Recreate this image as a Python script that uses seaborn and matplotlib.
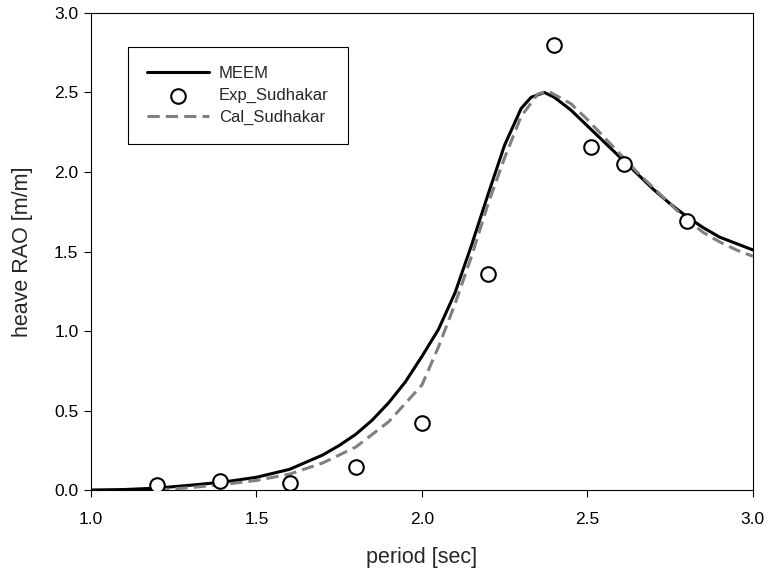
import pandas as pd
import matplotlib
matplotlib.use("Agg")
import matplotlib.pyplot as plt
import seaborn as sns

# MEEM heave RAO
meem_period = [1.0, 1.1, 1.2, 1.3, 1.4, 1.5, 1.6, 1.7, 1.75, 1.8, 1.85, 1.9, 1.95, 2.0,
               2.05, 2.1, 2.15, 2.2, 2.25, 2.3, 2.33, 2.37, 2.4, 2.45, 2.5, 2.55, 2.6,
               2.65, 2.7, 2.75, 2.8, 2.85, 2.9, 2.95, 3.0]
meem_rao = [0.0, 0.003, 0.012, 0.03, 0.05, 0.08, 0.13, 0.22, 0.28, 0.35, 0.44, 0.55, 0.68, 0.84,
            1.01, 1.24, 1.54, 1.86, 2.17, 2.40, 2.47, 2.50, 2.47, 2.39, 2.29, 2.19, 2.09,
            1.99, 1.89, 1.80, 1.72, 1.65, 1.59, 1.55, 1.51]

# Sudhakar experiment
exp_period = [1.2, 1.39, 1.6, 1.8, 2.0, 2.2, 2.4, 2.51, 2.61, 2.8]
exp_rao = [0.03, 0.055, 0.045, 0.145, 0.42, 1.36, 2.80, 2.16, 2.05, 1.69]

# Sudhakar calculation
cal_period = [1.2, 1.3, 1.4, 1.5, 1.6, 1.7, 1.8, 1.9, 2.0, 2.05, 2.1, 2.15, 2.2,
              2.25, 2.3, 2.35, 2.38, 2.45, 2.5, 2.55, 2.6, 2.65, 2.7, 2.75, 2.8,
              2.85, 2.9, 2.95, 3.0]
cal_rao = [0.0, 0.015, 0.035, 0.06, 0.10, 0.17, 0.27, 0.43, 0.66, 0.90, 1.17, 1.47, 1.80,
           2.09, 2.35, 2.49, 2.51, 2.43, 2.33, 2.22, 2.11, 2.00, 1.90, 1.80, 1.70,
           1.62, 1.56, 1.51, 1.47]


def main():
    sns.set_style("ticks")
    plt.rcParams['font.family'] = ['Liberation Sans', 'DejaVu Sans']
    plt.rcParams['font.size'] = 12

    meem = pd.DataFrame({'period': meem_period, 'rao': meem_rao})
    exp = pd.DataFrame({'period': exp_period, 'rao': exp_rao})
    cal = pd.DataFrame({'period': cal_period, 'rao': cal_rao})

    fig = plt.figure(figsize=(7.69, 5.75), dpi=100)
    ax = fig.add_axes([0.1183, 0.1478, 0.8607, 0.8296])

    sns.lineplot(data=meem, x='period', y='rao', ax=ax, color='black',
                 linewidth=2.2, sort=False, label='MEEM', zorder=2)
    sns.lineplot(data=cal, x='period', y='rao', ax=ax, color='#808080',
                 linewidth=2.2, sort=False, label='Cal_Sudhakar', zorder=3,
                 dashes=False)
    ax.lines[-1].set_dashes((4, 2))
    sns.scatterplot(data=exp, x='period', y='rao', ax=ax, marker='o',
                    facecolor='white', edgecolor='black', linewidth=1.5,
                    s=110, label='Exp_Sudhakar', zorder=4)

    ax.set_xlim(1.0, 3.0)
    ax.set_ylim(0.0, 3.0)
    ax.set_xticks([1.0, 1.5, 2.0, 2.5, 3.0])
    ax.set_yticks([0.0, 0.5, 1.0, 1.5, 2.0, 2.5, 3.0])
    ax.set_xticklabels(['1.0', '1.5', '2.0', '2.5', '3.0'])
    ax.set_yticklabels(['0.0', '0.5', '1.0', '1.5', '2.0', '2.5', '3.0'])
    ax.tick_params(axis='both', direction='out', length=5, width=0.8,
                   colors='black', labelsize=12.5)
    ax.tick_params(axis='x', pad=10.5)
    ax.tick_params(axis='y', pad=4)

    for sp in ax.spines.values():
        sp.set_visible(True)
        sp.set_color('black')
        sp.set_linewidth(0.8)

    ax.set_xlabel('period [sec]', fontsize=15.5, labelpad=15)
    ax.set_ylabel('heave RAO [m/m]', fontsize=15.5, labelpad=15)

    handles, labels = ax.get_legend_handles_labels()
    order = [labels.index('MEEM'), labels.index('Exp_Sudhakar'), labels.index('Cal_Sudhakar')]
    leg = ax.legend([handles[i] for i in order], [labels[i] for i in order],
                    loc='upper left', bbox_to_anchor=(0.056, 0.929),
                    borderaxespad=0, fancybox=False, frameon=True,
                    edgecolor='black', framealpha=1, fontsize=12,
                    handlelength=3.7, handletextpad=0.6, labelspacing=0.42,
                    borderpad=1.15, markerscale=1.0)
    leg.get_frame().set_linewidth(0.8)

    fig.savefig('out.png', dpi=100)
    plt.close(fig)


if __name__ == "__main__":
    main()
